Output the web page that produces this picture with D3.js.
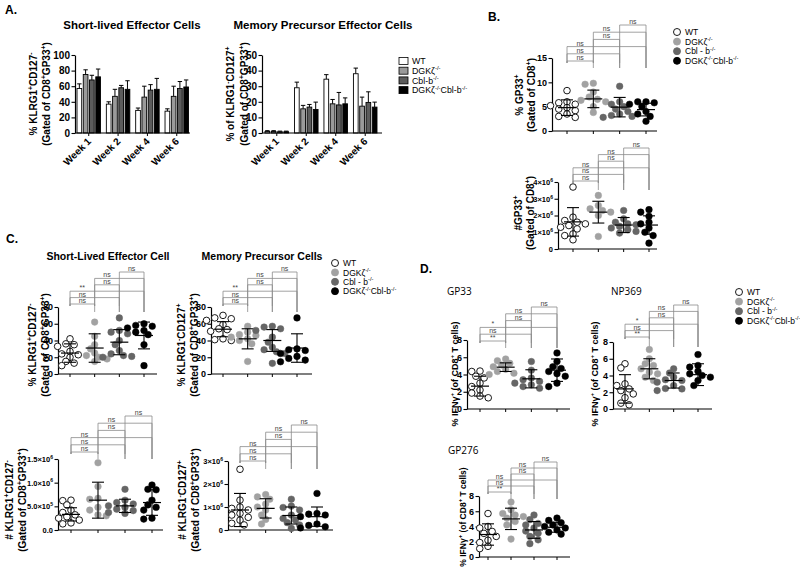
<!DOCTYPE html>
<html><head><meta charset="utf-8">
<script src="https://cdn.jsdelivr.net/npm/d3@7"></script>
<style>body{margin:0;background:#fff}svg{display:block}</style>
</head><body><svg id="c" width="800" height="573"></svg>
<script>
// ---------------- DATA ----------------
const genotypesA = ["WT", "DGKζ^{-/-}", "Cbl-b^{-/-}", "DGKζ^{-/-}Cbl-b^{-/-}"];
const genotypes = ["WT", "DGKζ^{-/-}", "Cbl - b^{-/-}", "DGKζ^{-/-}Cbl-b^{-/-}"];
const weeks = ["Week 1", "Week 2", "Week 4", "Week 6"];

// Panel A: mean and SEM, [genotype][week]
const slecWeekMean = [[57, 37, 29, 28], [75, 47, 46, 47], [68, 58, 55, 57], [72, 56, 56, 59]];
const slecWeekErr  = [[6, 3, 3, 3], [6, 9, 14, 13], [6, 3, 7, 9], [10, 11, 14, 9]];
const mpecWeekMean = [[1.0, 29, 34.5, 38], [1.0, 15.5, 18.7, 17.2], [0.8, 16.6, 18, 19.6], [0.8, 15.1, 18.7, 16.6]];
const mpecWeekErr  = [[0.5, 3.6, 2.9, 3.6], [0.5, 2.2, 2.8, 5.8], [0.4, 1.7, 8, 6.8], [0.4, 4.7, 3.8, 3.2]];
const ticksA1 = [0, 20, 40, 60, 80, 100];
const ticksA2 = [0, 10, 20, 30, 40, 50];

// Panel B
const gp33Pct = [
  [8.3, 6.0, 5.8, 5.5, 5.2, 4.8, 4.5, 4.2, 3.5, 3.0, 2.8],
  [9.8, 9.6, 8.0, 7.0, 6.5, 6.3, 6.0, 5.0, 3.8],
  [9.2, 6.0, 5.5, 5.0, 4.5, 4.0, 3.5, 3.2, 3.0, 2.8],
  [6.0, 6.0, 5.8, 5.5, 5.0, 4.0, 3.5, 3.0, 2.0]];
const gp33PctMean = [4.8, 6.6, 4.9, 4.4];
const gp33PctSd = [1.6, 1.8, 2.0, 1.3];
const ticksB1 = [0, 5, 10, 15];
const tickLabelsB1 = ["0", "5", "10", "15"];

const gp33Num = [
  [3.7e6, 1.9e6, 1.7e6, 1.6e6, 1.5e6, 1.4e6, 1.3e6, 1.2e6, 0.9e6, 0.8e6, 0.55e6],
  [3.2e6, 2.6e6, 2.4e6, 2.3e6, 2.2e6, 2.0e6, 0.75e6],
  [2.3e6, 1.8e6, 1.6e6, 1.5e6, 1.45e6, 1.35e6, 1.25e6, 1.15e6, 1.05e6, 0.95e6],
  [2.35e6, 2.2e6, 1.95e6, 1.6e6, 1.5e6, 1.25e6, 1.0e6, 0.8e6, 0.35e6]];
const gp33NumMean = [1.62e6, 2.2e6, 1.43e6, 1.43e6];
const gp33NumSd = [0.85e6, 0.65e6, 0.45e6, 0.55e6];
const ticksB2 = [0, 1e6, 2e6, 3e6, 4e6];
const tickLabelsB2 = ["0", "1×10^{6}", "2×10^{6}", "3×10^{6}", "4×10^{6}"];

// Panel C
const slecPct = [
  [42, 36, 35, 33, 27, 24, 23, 20, 15, 13, 10],
  [62, 45, 35, 30, 25, 22, 20, 18, 15],
  [67, 52, 50, 48, 40, 35, 28, 24, 22, 21, 20],
  [60, 58, 57, 55, 52, 50, 47, 35, 10]];
const slecPctMean = [25, 31, 38, 46];
const slecPctSd = [11, 17, 15, 16];
const mpecPct = [
  [70, 67, 66, 64, 59, 54, 53, 51, 42, 41, 40],
  [57, 50, 47, 46, 44, 42, 40, 36, 15],
  [57, 56, 54, 52, 44, 38, 32, 29, 26.5, 24.5, 12.7],
  [67, 30, 29, 28, 24.5, 21, 18.6, 16.6, 14.6]];
const mpecPctMean = [53.5, 42, 40, 31];
const mpecPctSd = [9, 12, 13, 17];
const ticksC1 = [0, 20, 40, 60, 80];
const tickLabelsC1 = ["0", "20", "40", "60", "80"];

const slecNum = [
  [6.3e5, 6.2e5, 5.3e5, 4.2e5, 3.7e5, 3.2e5, 2.8e5, 2.5e5, 2.1e5, 1.5e5, 1.3e5],
  [14.2e5, 9.2e5, 6.7e5, 6.5e5, 4.8e5, 4.2e5, 3.2e5, 3.0e5],
  [8.6e5, 6.3e5, 5.8e5, 5.5e5, 5.1e5, 4.8e5, 4.4e5, 4.1e5, 3.7e5, 3.5e5],
  [9.5e5, 8.6e5, 8.5e5, 6.3e5, 5.3e5, 4.8e5, 4.2e5, 2.5e5, 2.3e5]];
const slecNumMean = [3.3e5, 6.3e5, 5.1e5, 5.8e5];
const slecNumSd = [1.4e5, 3.8e5, 1.4e5, 2.7e5];
const ticksC3 = [0, 5e5, 1e6, 1.5e6];
const tickLabelsC3 = ["0.0", "5.0×10^{5}", "1.0×10^{6}", "1.5×10^{6}"];

const mpecNum = [
  [2.64e6, 1.3e6, 1.0e6, 0.94e6, 0.87e6, 0.72e6, 0.65e6, 0.55e6, 0.43e6, 0.29e6, 0.22e6],
  [1.54e6, 1.44e6, 1.34e6, 1.13e6, 1.0e6, 0.87e6, 0.65e6, 0.46e6, 0.26e6],
  [1.34e6, 1.04e6, 0.98e6, 0.87e6, 0.65e6, 0.5e6, 0.43e6, 0.32e6, 0.22e6, 0.07e6],
  [1.59e6, 0.72e6, 0.69e6, 0.65e6, 0.58e6, 0.26e6, 0.2e6, 0.14e6, 0.09e6]];
const mpecNumMean = [0.87e6, 0.94e6, 0.63e6, 0.58e6];
const mpecNumSd = [0.72e6, 0.42e6, 0.37e6, 0.42e6];
const ticksC4 = [0, 1e6, 2e6, 3e6];
const tickLabelsC4 = ["0", "1×10^{6}", "2×10^{6}", "3×10^{6}"];

// Panel D
const ifnGP33 = [
  [4.4, 4.35, 3.8, 3.6, 3.0, 2.6, 2.2, 1.85, 1.5, 1.3],
  [5.8, 5.6, 5.3, 5.1, 4.9, 4.6, 4.35, 4.15, 4.0],
  [5.5, 4.5, 3.6, 3.4, 3.2, 3.0, 2.8, 2.6, 2.4],
  [6.5, 5.5, 4.9, 4.7, 4.35, 4.1, 3.8, 3.0, 2.6]];
const ifnGP33Mean = [2.65, 4.85, 3.5, 4.5];
const ifnGP33Sd = [1.15, 0.5, 1.05, 1.3];
const ifnNP369 = [
  [5.4, 4.9, 3.0, 2.8, 2.4, 2.2, 1.8, 1.35, 0.7, 0.5],
  [7.1, 6.0, 5.4, 5.2, 4.8, 4.4, 4.2, 3.8, 3.4],
  [4.8, 4.3, 3.8, 3.5, 3.4, 3.2, 2.8, 2.45, 2.4, 2.2],
  [6.5, 5.2, 5.0, 4.5, 4.2, 4.0, 3.8, 3.4, 2.8]];
const ifnNP369Mean = [2.4, 4.8, 3.4, 4.1];
const ifnNP369Sd = [1.7, 1.2, 0.9, 1.3];
const ifnGP276 = [
  [5.7, 4.0, 3.8, 3.35, 3.1, 2.7, 2.2, 1.9, 1.4, 1.1],
  [7.2, 6.2, 5.7, 5.5, 5.3, 5.1, 4.65, 4.2, 2.35],
  [5.5, 4.9, 4.4, 4.2, 3.8, 3.4, 3.1, 2.7, 2.25, 1.75],
  [5.1, 4.8, 4.5, 4.2, 4.0, 3.8, 3.55, 3.25, 3.0]];
const ifnGP276Mean = [2.95, 5.0, 3.55, 3.9];
const ifnGP276Sd = [1.4, 1.4, 1.1, 0.65];
const ticksD = [0, 2, 4, 6, 8];
const tickLabelsD = ["0", "2", "4", "6", "8"];

// significance labels: WT-DGK, WT-Cbl, WT-DKO, DGK-Cbl, DGK-DKO, Cbl-DKO
const sigB = ["ns", "ns", "ns", "ns", "ns", "ns"];
const sigC = ["ns", "ns", "**", "ns", "ns", "ns"];
const sigCnum = ["ns", "ns", "ns", "ns", "ns", "ns"];
const sigD12 = ["**", "ns", "*", "ns", "ns", "ns"];
const sigD3 = ["**", "ns", "ns", "ns", "ns", "ns"];

// ---------------- STYLE ----------------
const FF = '"Liberation Sans", Arial, Helvetica, sans-serif';
const fills = ["#ffffff", "#a2a2a2", "#666666", "#000000"];
const barFills = ["#ffffff", "#9a9a9a", "#5c5c5c", "#000000"];
const svg = d3.select("#c").attr("font-family", FF);

function rich(sel, str, fs) {
  const parts = str.split(/(\^\{[^}]*\})/).filter(s => s.length);
  let sup = false;
  parts.forEach(p => {
    if (p.startsWith("^{")) {
      sel.append("tspan").attr("dy", sup ? 0 : -fs * 0.42).attr("font-size", fs * 0.68).text(p.slice(2, -1));
      sup = true;
    } else {
      const t = sel.append("tspan").text(p);
      if (sup) { t.attr("dy", fs * 0.42); sup = false; }
    }
  });
  return sel;
}
function label(x, y, str, fs, opts = {}) {
  const t = svg.append("text").attr("x", x).attr("y", y).attr("font-size", fs)
    .attr("font-weight", opts.bold ? "bold" : "normal").attr("fill", "#000")
    .attr("text-anchor", opts.anchor || "start");
  if (opts.family) t.attr("font-family", opts.family);
  if (opts.rotate) t.attr("transform", `rotate(${opts.rotate},${x},${y})`);
  return rich(t, str, fs);
}
function yAxis(g, y, ax, ticks, labels, fs) {
  const a = g.append("g").attr("transform", `translate(${ax},0)`)
    .call(d3.axisLeft(y).tickValues(ticks).tickSize(3.5).tickSizeOuter(0).tickFormat(() => ""));
  a.attr("font-family", FF).attr("font-size", fs);
  a.select(".domain").attr("stroke", "#000").attr("stroke-width", 1.2);
  a.selectAll(".tick line").attr("stroke", "#000").attr("stroke-width", 1.1);
  a.selectAll(".tick text").attr("font-weight", "bold").attr("fill", "#000").attr("x", -5)
    .each(function (d, i) { rich(d3.select(this), labels[i], fs); });
}

// ---------------- BAR CHARTS (A) ----------------
function barChart(L, means, errs) {
  const g = svg.append("g");
  const y = d3.scaleLinear().domain([0, L.yMax]).range([L.y0, L.yTop]);
  const x0 = d3.scaleBand().domain(weeks).range(L.band).paddingInner(0.2);
  const x1 = d3.scaleBand().domain(d3.range(4)).range([0, x0.bandwidth()]).paddingInner(0.25);
  weeks.forEach((w, wi) => {
    for (let k = 0; k < 4; k++) {
      const bx = x0(w) + x1(k), bw = x1.bandwidth(), m = means[k][wi];
      const cx = bx + bw / 2, top = y(m + errs[k][wi]);
      g.append("line").attr("x1", cx).attr("x2", cx).attr("y1", y(m)).attr("y2", top).attr("stroke", "#000").attr("stroke-width", 1);
      g.append("line").attr("x1", cx - 2.2).attr("x2", cx + 2.2).attr("y1", top).attr("y2", top).attr("stroke", "#000").attr("stroke-width", 1);
      g.append("rect").attr("x", bx).attr("y", y(m)).attr("width", bw).attr("height", L.y0 - y(m))
        .attr("fill", barFills[k]).attr("stroke", "#000").attr("stroke-width", 0.9);
    }
    const cx = x0(w) + x0.bandwidth() / 2;
    g.append("line").attr("x1", cx).attr("x2", cx).attr("y1", L.y0).attr("y2", L.y0 + 3).attr("stroke", "#000");
    label(cx + 3, L.y0 + 9, w, 10, { bold: true, anchor: "end", rotate: -45 });
  });
  g.append("line").attr("x1", L.ax).attr("x2", L.xEnd).attr("y1", L.y0).attr("y2", L.y0).attr("stroke", "#000").attr("stroke-width", 1.2);
  yAxis(g, y, L.ax, L.ticks, L.ticks.map(String), 10);
  label(L.title[0], L.title[1], L.title[2], 11.5, { bold: true, anchor: "middle" });
  L.ylab.forEach((s, i) => label(L.ylx[i], L.yly, s, 10, { bold: true, anchor: "middle", rotate: -90 }));
}

barChart({ ax: 75, xEnd: 190, band: [77, 188.5], y0: 133, yTop: 55, yMax: 100, ticks: ticksA1,
  title: [132, 29, "Short-lived Effector Cells"], ylab: ["% KLRG1^{+}CD127^{-}", "(Gated of CD8^{+}GP33^{+})"], ylx: [37, 50], yly: 94 },
  slecWeekMean, slecWeekErr);
barChart({ ax: 262, xEnd: 382, band: [265, 377], y0: 133, yTop: 55, yMax: 50, ticks: ticksA2,
  title: [323, 29, "Memory Precursor Effector Cells"], ylab: ["% of KLRG1^{-}CD127^{+}", "(Gated of CD8^{+}GP33^{+})"], ylx: [234, 248], yly: 94 },
  mpecWeekMean, mpecWeekErr);

// legend A
genotypesA.forEach((s, i) => {
  const yy = 61 + i * 9.7;
  svg.append("rect").attr("x", 399).attr("y", yy - 3.5).attr("width", 9).attr("height", 7)
    .attr("fill", barFills[i]).attr("stroke", "#000").attr("stroke-width", 0.8);
  label(412, yy + 3.2, s, 8.8);
});

// ---------------- SCATTER PANELS ----------------
function dodge(vals, y, r) {
  const idx = d3.range(vals.length).sort((a, b) => vals[b] - vals[a]);
  const placed = [], off = new Array(vals.length);
  const step = r * 1.25, minD = r * 1.75;
  idx.forEach(i => {
    const py = y(vals[i]);
    const cands = [0];
    for (let k = 1; k < 8; k++) { cands.push(-k * step, k * step); }
    let chosen = cands[cands.length - 1];
    for (const c of cands) {
      if (placed.every(p => Math.hypot(p[0] - c, p[1] - py) >= minD)) { chosen = c; break; }
    }
    placed.push([chosen, py]);
    off[i] = chosen;
  });
  return off;
}

function scatter(L, data, means, sds, sig) {
  const g = svg.append("g");
  const y = d3.scaleLinear().domain([0, L.yMax]).range([L.y0, L.yTop]);
  const x = d3.scalePoint().domain(d3.range(4)).range(L.gx);
  const r = 3.3;
  // brackets
  const pairs = [[0, 1], [0, 2], [0, 3], [1, 2], [1, 3], [2, 3]];
  pairs.forEach((p, lv) => {
    const yb = L.bBase - lv * L.bStep;
    const xa = x(p[0]), xb = x(p[1]);
    const ln = (x1, y1, x2, y2) => g.append("line").attr("x1", x1).attr("y1", y1).attr("x2", x2).attr("y2", y2)
      .attr("stroke", "#8a8a8a").attr("stroke-width", 0.8);
    ln(xa, yb, xb, yb);
    ln(xa, yb, xa, L.bBase + 2);
    ln(xb, yb, xb, L.bDrop);
    g.append("text").attr("x", (xa + x(p[0] + 1)) / 2).attr("y", yb - 1).attr("text-anchor", "middle")
      .attr("font-size", 7).attr("fill", "#444").text(sig[lv]);
  });
  // axes
  g.append("line").attr("x1", L.ax).attr("x2", L.xEnd).attr("y1", L.y0).attr("y2", L.y0).attr("stroke", "#000").attr("stroke-width", 1.2);
  d3.range(4).forEach(k => g.append("line").attr("x1", x(k)).attr("x2", x(k)).attr("y1", L.y0).attr("y2", L.y0 + 3).attr("stroke", "#000"));
  yAxis(g, y, L.ax, L.ticks, L.tl, L.tfs || 9);
  // points
  data.forEach((vals, k) => {
    const off = dodge(vals, y, r);
    vals.forEach((v, i) => {
      g.append("circle").attr("cx", x(k) + off[i]).attr("cy", y(v)).attr("r", r)
        .attr("fill", fills[k]).attr("stroke", k === 0 ? "#000" : fills[k]).attr("stroke-width", k === 0 ? 0.9 : 0.5);
    });
    const cx = x(k), m = means[k], sd = sds[k];
    g.append("line").attr("x1", cx - 9).attr("x2", cx + 9).attr("y1", y(m)).attr("y2", y(m)).attr("stroke", "#000").attr("stroke-width", 1.2);
    g.append("line").attr("x1", cx).attr("x2", cx).attr("y1", y(m - sd)).attr("y2", y(m + sd)).attr("stroke", "#000").attr("stroke-width", 1.1);
    [m - sd, m + sd].forEach(v => g.append("line").attr("x1", cx - 6).attr("x2", cx + 6).attr("y1", y(v)).attr("y2", y(v)).attr("stroke", "#000").attr("stroke-width", 1.1));
  });
  L.ylab.forEach((s, i) => label(L.ylx[i], L.yly, s, L.yfs || 10, { bold: true, anchor: "middle", rotate: -90 }));
  if (L.title) label(L.title[0], L.title[1], L.title[2], L.title[3], { bold: L.title[4], anchor: L.title[5], family: L.title[6] });
}

function circleLegend(x, y0, step) {
  genotypes.forEach((s, i) => {
    const yy = y0 + i * step;
    svg.append("circle").attr("cx", x).attr("cy", yy).attr("r", 3.5)
      .attr("fill", fills[i]).attr("stroke", i === 0 ? "#000" : fills[i]).attr("stroke-width", 0.9);
    label(x + 8, yy + 3.1, s, 8.5);
  });
}

// B
scatter({ ax: 552, xEnd: 657, gx: [567, 646], y0: 131, yTop: 58, yMax: 15, ticks: ticksB1, tl: tickLabelsB1,
  bBase: 61, bStep: 7.2, bDrop: 68, ylab: ["% GP33^{+}", "(Gated of CD8^{+})"], ylx: [523, 535], yly: 95 },
  gp33Pct, gp33PctMean, gp33PctSd, sigB);
scatter({ ax: 558, xEnd: 657, gx: [573, 649], y0: 249, yTop: 182, yMax: 4e6, ticks: ticksB2, tl: tickLabelsB2, tfs: 7.5,
  bBase: 181, bStep: 6.6, bDrop: 190, ylab: ["#GP33^{+}", "(Gated of CD8^{+})"], ylx: [522, 534], yly: 213 },
  gp33Num, gp33NumMean, gp33NumSd, sigB);
circleLegend(677, 32, 9.6);

// C
scatter({ ax: 58, xEnd: 157, gx: [70, 144], y0: 374, yTop: 307, yMax: 80, ticks: ticksC1, tl: tickLabelsC1,
  bBase: 304, bStep: 6.4, bDrop: 312, ylab: ["% KLRG1^{+}CD127^{-}", "(Gated of CD8^{+}GP33^{+})"], ylx: [36, 49], yly: 345,
  title: [108, 260, "Short-Lived Effector Cell", 10.5, true, "middle"] },
  slecPct, slecPctMean, slecPctSd, sigC);
scatter({ ax: 211, xEnd: 312, gx: [223, 297], y0: 374, yTop: 307, yMax: 80, ticks: ticksC1, tl: tickLabelsC1,
  bBase: 304, bStep: 6.4, bDrop: 312, ylab: ["% KLRG1^{-}CD127^{+}", "(Gated of CD8^{+}GP33^{+})"], ylx: [185, 198], yly: 345,
  title: [262, 260, "Memory Precursor Cells", 10.5, true, "middle"] },
  mpecPct, mpecPctMean, mpecPctSd, sigC);
scatter({ ax: 58, xEnd: 163, gx: [71, 152], y0: 530, yTop: 459, yMax: 1.5e6, ticks: ticksC3, tl: tickLabelsC3, tfs: 7.5,
  bBase: 452, bStep: 7.2, bDrop: 459, ylab: ["# KLRG1^{+}CD127^{-}", "(Gated of CD8^{+}GP33^{+})"], ylx: [13, 26], yly: 500 },
  slecNum, slecNumMean, slecNumSd, sigCnum);
scatter({ ax: 228, xEnd: 333, gx: [240, 317], y0: 530, yTop: 461, yMax: 3e6, ticks: ticksC4, tl: tickLabelsC4, tfs: 7.5,
  bBase: 461, bStep: 7.2, bDrop: 469, ylab: ["# KLRG1^{-}CD127^{+}", "(Gated of CD8^{+}GP33^{+})"], ylx: [186, 199], yly: 500 },
  mpecNum, mpecNumMean, mpecNumSd, sigCnum);
circleLegend(335, 263, 9.4);

// D
const TF = '"Open Sans", "Noto Sans", sans-serif';
scatter({ ax: 467, xEnd: 570, gx: [480, 557], y0: 409, yTop: 340, yMax: 8, ticks: ticksD, tl: tickLabelsD,
  bBase: 341, bStep: 6.8, bDrop: 348, ylab: ["% IFNγ^{+} (of CD8^{+} T cells)"], ylx: [458], yly: 374, yfs: 9,
  title: [447, 295, "GP33", 10, false, "start", TF] },
  ifnGP33, ifnGP33Mean, ifnGP33Sd, sigD12);
scatter({ ax: 613, xEnd: 712, gx: [625, 698], y0: 409, yTop: 342, yMax: 8, ticks: ticksD, tl: tickLabelsD,
  bBase: 337, bStep: 6.4, bDrop: 347, ylab: ["% IFNγ^{+} (of CD8^{+} T cells)"], ylx: [598], yly: 374, yfs: 9,
  title: [611, 295, "NP369", 10, false, "start", TF] },
  ifnNP369, ifnNP369Mean, ifnNP369Sd, sigD12);
scatter({ ax: 479, xEnd: 570, gx: [488, 557], y0: 557, yTop: 496, yMax: 8, ticks: ticksD, tl: tickLabelsD,
  bBase: 492, bStep: 6, bDrop: 499, ylab: ["% IFNγ^{+} (of CD8^{+} T cells)"], ylx: [466], yly: 517, yfs: 8.5,
  title: [448, 454, "GP276", 10, false, "start", TF] },
  ifnGP276, ifnGP276Mean, ifnGP276Sd, sigD3);
circleLegend(739, 292, 9.6);

// panel letters
label(5, 14, "A.", 12, { bold: true });
label(488, 21, "B.", 12, { bold: true });
label(6, 243, "C.", 12, { bold: true });
label(420, 273, "D.", 12, { bold: true });
</script>
</body></html>
